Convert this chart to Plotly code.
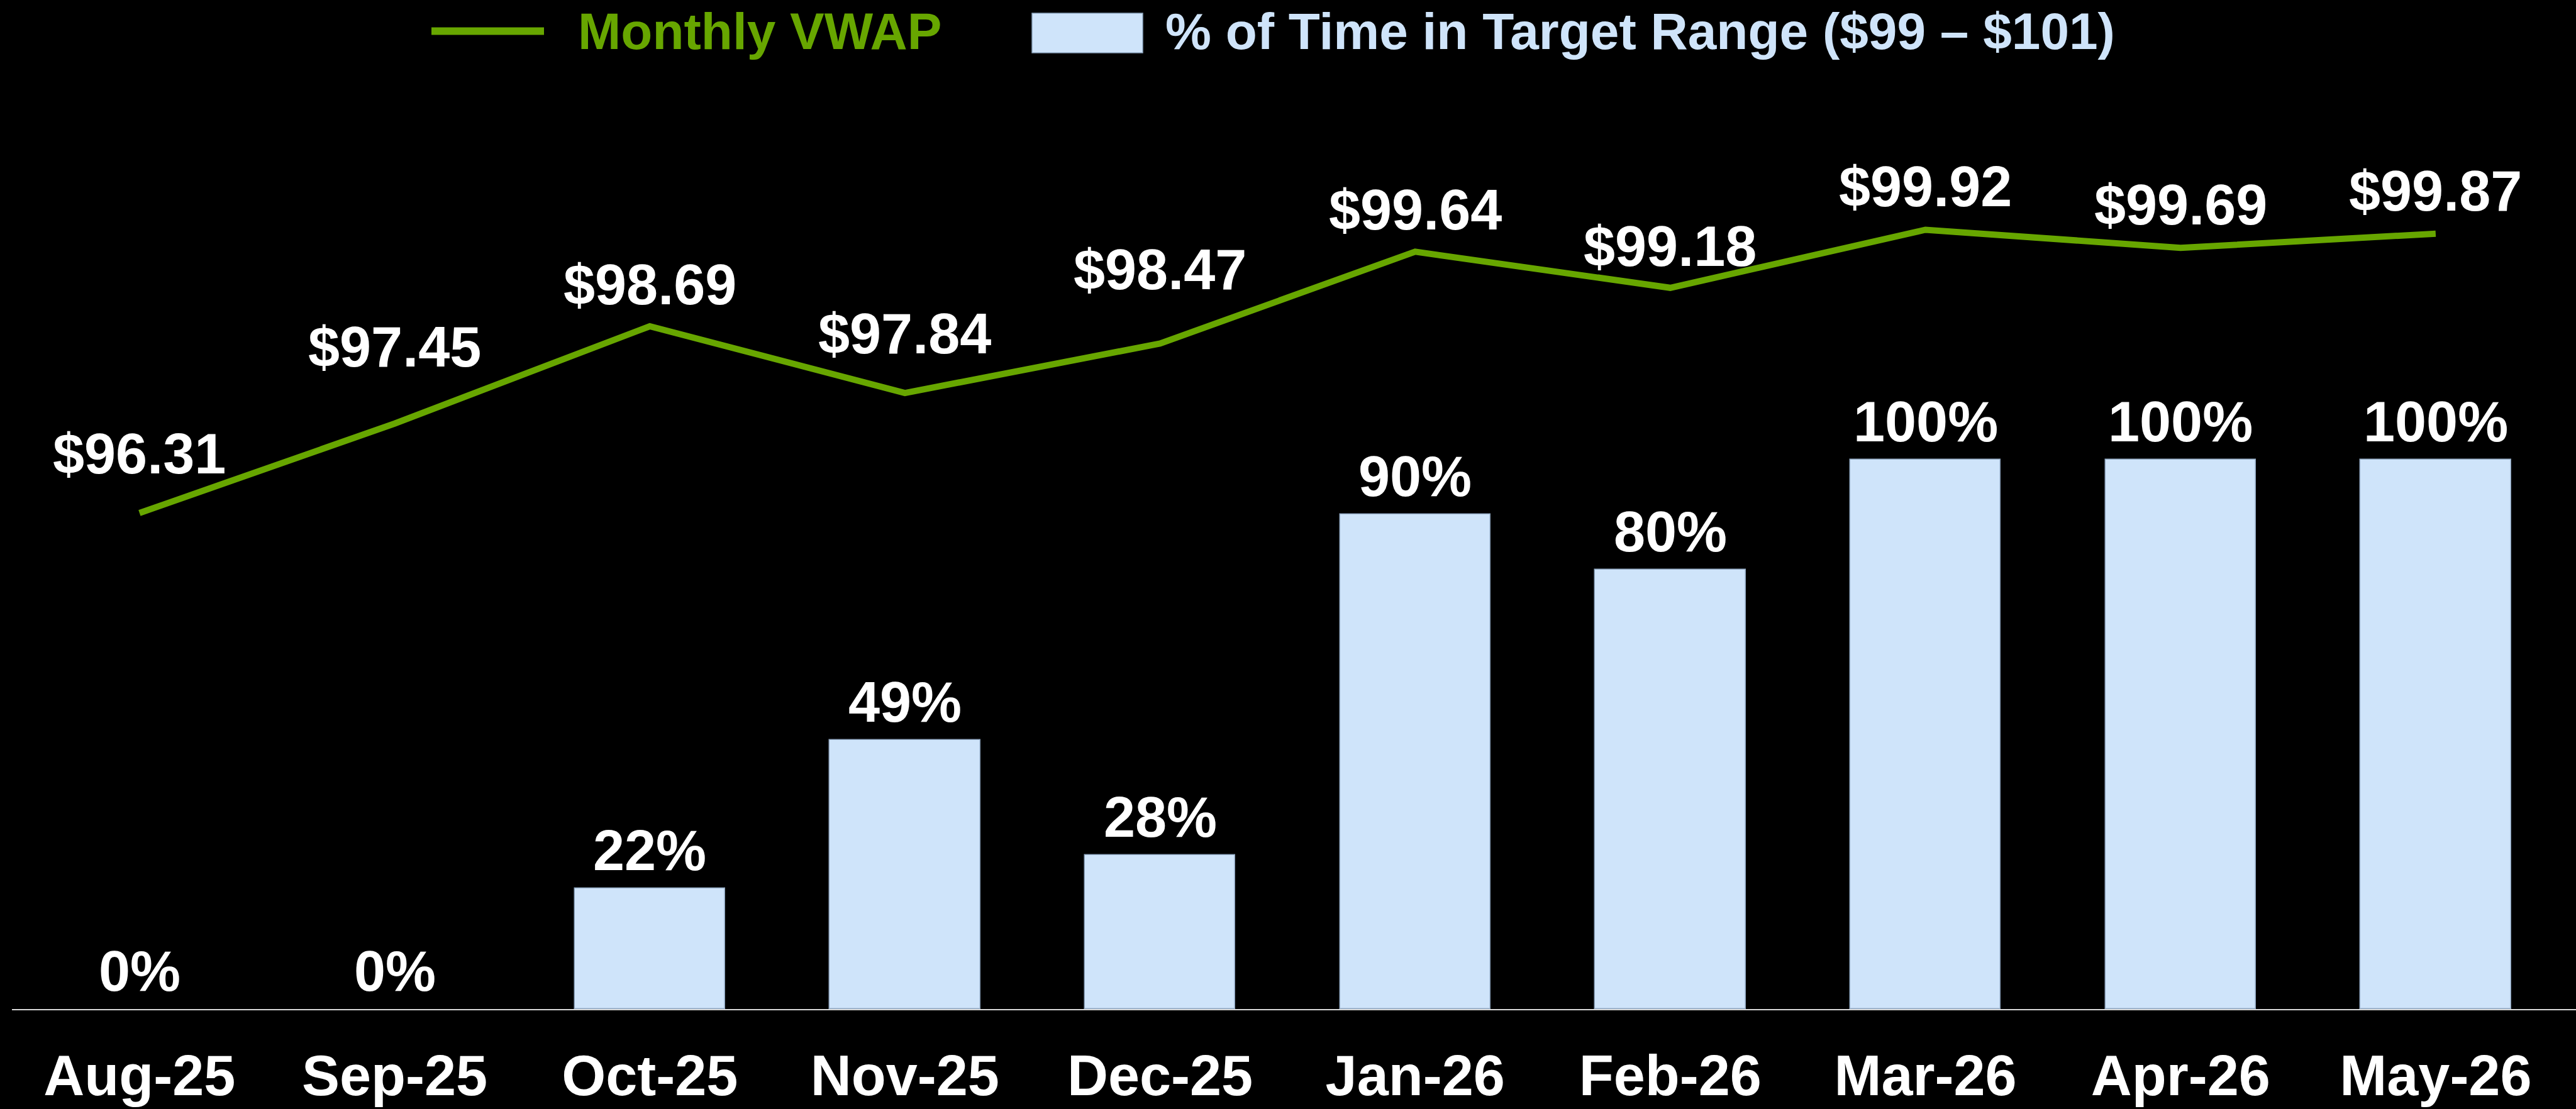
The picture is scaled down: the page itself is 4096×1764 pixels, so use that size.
import plotly.graph_objects as go

# ---------------- data ----------------
months = ["Aug-25", "Sep-25", "Oct-25", "Nov-25", "Dec-25",
          "Jan-26", "Feb-26", "Mar-26", "Apr-26", "May-26"]
vwap = [96.31, 97.45, 98.69, 97.84, 98.47, 99.64, 99.18, 99.92, 99.69, 99.87]
pct_in_range = [0, 0, 22, 49, 28, 90, 80, 100, 100, 100]

vwap_series_name = "Monthly VWAP"
pct_series_name = "% of Time in Target Range ($99 \u2013 $101)"

# ---------------- style ----------------
W, H = 4096, 1764
M_L, M_R, M_T, M_B = 19, 0, 100, 159
GREEN = "#67A600"
BLUE = "#CFE4FA"
BAR_EDGE = "#8FA6C0"
FONT = "Liberation Sans, Arial, sans-serif"
LABEL_SIZE = 90
LEGEND_SIZE = 82
# vertical lift (px) of each VWAP label above its point
vwap_label_lift = [42, 70, 14, 42, 65, 14, 14, 16, 16, 16]
bar_label_lift = 8

plot_w = W - M_L - M_R
plot_h = H - M_T - M_B


def px_x(px):
    return (px - M_L) / plot_w


def px_y(py):
    return (H - M_B - py) / plot_h


fig = go.Figure()

fig.add_trace(go.Bar(
    x=months, y=pct_in_range, width=0.59, name=pct_series_name,
    marker=dict(color=BLUE,
                line=dict(color=BAR_EDGE, width=[1.5 if p > 0 else 0 for p in pct_in_range])),
    yaxis="y", showlegend=False, hoverinfo="skip",
))

fig.add_trace(go.Scatter(
    x=months, y=vwap, mode="lines", name=vwap_series_name,
    line=dict(color=GREEN, width=10),
    yaxis="y2", showlegend=False, hoverinfo="skip",
))

annotations = []
for m, v, lift in zip(months, vwap, vwap_label_lift):
    annotations.append(dict(
        x=m, y=v, xref="x", yref="y2", text=f"${v:.2f}", showarrow=False,
        xanchor="center", yanchor="bottom", yshift=lift,
        font=dict(family=FONT, size=LABEL_SIZE, color="white", weight="bold"),
    ))
for m, p in zip(months, pct_in_range):
    annotations.append(dict(
        x=m, y=p, xref="x", yref="y", text=f"{p}%", showarrow=False,
        xanchor="center", yanchor="bottom", yshift=bar_label_lift,
        font=dict(family=FONT, size=LABEL_SIZE, color="white", weight="bold"),
    ))

# ---- legend (drawn manually to match symbol sizes) ----
shapes = [
    dict(type="line", xref="paper", yref="paper",
         x0=px_x(686), x1=px_x(865), y0=px_y(49.5), y1=px_y(49.5),
         line=dict(color=GREEN, width=12)),
    dict(type="rect", xref="paper", yref="paper",
         x0=px_x(1641), x1=px_x(1817), y0=px_y(84), y1=px_y(21),
         fillcolor=BLUE, line=dict(color=BAR_EDGE, width=1.5)),
]
annotations.append(dict(
    x=px_x(917), y=px_y(49), xref="paper", yref="paper", text=vwap_series_name,
    showarrow=False, xanchor="left", yanchor="middle",
    font=dict(family=FONT, size=LEGEND_SIZE, color=GREEN, weight="bold"),
))
annotations.append(dict(
    x=px_x(1851), y=px_y(49), xref="paper", yref="paper", text=pct_series_name,
    showarrow=False, xanchor="left", yanchor="middle",
    font=dict(family=FONT, size=LEGEND_SIZE, color=BLUE, weight="bold"),
))

fig.update_layout(
    width=W, height=H,
    margin=dict(l=M_L, r=M_R, t=M_T, b=M_B, pad=0, autoexpand=False),
    paper_bgcolor="black", plot_bgcolor="black",
    showlegend=False,
    bargap=0,
    xaxis=dict(
        type="category", range=[-0.5, 9.55], automargin=False,
        showline=True, linecolor="#D9D9D9", linewidth=2,
        showgrid=False, zeroline=False, ticks="",
        tickfont=dict(family=FONT, size=LABEL_SIZE, color="white", weight="bold"),
        ticklabelstandoff=27,
    ),
    yaxis=dict(range=[0, 172.2], visible=False, showgrid=False, zeroline=False,
               automargin=False),
    yaxis2=dict(range=[89.988, 102.047], overlaying="y", visible=False,
                showgrid=False, zeroline=False, automargin=False),
    annotations=annotations,
    shapes=shapes,
)

fig.write_html(
    "out.html",
    config={"displayModeBar": False},
    post_script="document.body.style.margin='0';document.body.style.background='black';",
)
